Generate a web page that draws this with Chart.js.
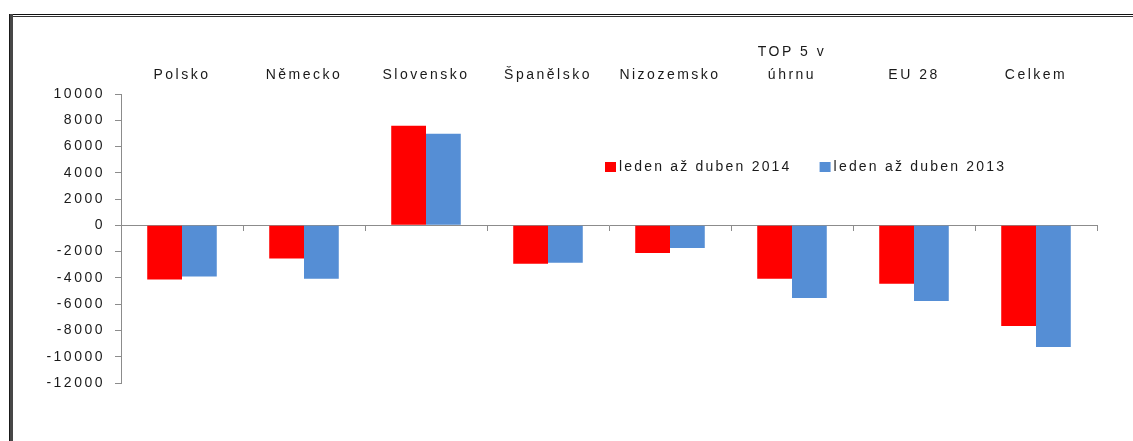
<!DOCTYPE html>
<html>
<head>
<meta charset="utf-8">
<script src="https://cdn.jsdelivr.net/npm/chart.js@4.4.1/dist/chart.umd.min.js"></script>
<style>
  html, body { margin: 0; padding: 0; background: #fff; }
  #wrap { width: 1133px; height: 441px; }
</style>
</head>
<body>
<div id="wrap"><canvas id="chart" width="1133" height="441"></canvas></div>
<script>
const categories = ['Polsko', 'Německo', 'Slovensko', 'Španělsko', 'Nizozemsko', ['TOP 5 v', 'úhrnu'], 'EU 28', 'Celkem']
const series2014 = [-4130, -2530, 7590, -2920, -2100, -4060, -4440, -7660]
const series2013 = [-3900, -4060, 6980, -2840, -1720, -5530, -5760, -9260]
const seriesLabels = ['leden až duben 2014', 'leden až duben 2013']
const yMin = -12000
const yMax = 10000
const yStep = 2000

const FONT = '"Liberation Sans", Arial, sans-serif'
const TEXT = '#1a1a1a'
const AXIS = '#8c8c8c'
const SPACING = '2.5px'

Chart.defaults.font.family = FONT
Chart.defaults.font.size = 14
Chart.defaults.color = TEXT

// the reference text is drawn wide, so widen canvas text a bit
const letterSpacingPlugin = {
  id: 'letterSpacing',
  beforeUpdate(chart) { chart.ctx.letterSpacing = SPACING },
  beforeDraw(chart) { chart.ctx.letterSpacing = SPACING }
}

// white background + the frame lines round the chart
const framePlugin = {
  id: 'frame',
  beforeDraw(chart) {
    const ctx = chart.ctx
    ctx.save()
    ctx.fillStyle = '#fff'
    ctx.fillRect(0, 0, chart.width, chart.height)
    ctx.fillStyle = '#111'
    ctx.fillRect(9, 14, chart.width - 9, 1)
    ctx.fillStyle = '#333'
    ctx.fillRect(9, 16, chart.width - 9, 1)
    ctx.fillStyle = '#474747'
    ctx.fillRect(9, 14, 4, chart.height - 14)
    ctx.fillStyle = '#1a1a1a'
    ctx.fillRect(9, 14, 1, chart.height - 14)
    ctx.restore()
  }
}

// legend sits inside the plot area, one row
const insideLegendPlugin = {
  id: 'insideLegend',
  afterDraw(chart, args, opts) {
    const ctx = chart.ctx
    ctx.save()
    ctx.font = '14px ' + FONT
    ctx.textBaseline = 'middle'
    ctx.letterSpacing = opts.spacing
    let x = opts.x
    chart.data.datasets.forEach(ds => {
      ctx.fillStyle = ds.backgroundColor
      ctx.fillRect(x, opts.y - 5, 11, 10)
      ctx.fillStyle = TEXT
      ctx.fillText(ds.label, x + 14, opts.y)
      x += 14 + ctx.measureText(ds.label).width + opts.gap
    })
    ctx.restore()
  }
}

new Chart(document.getElementById('chart'), {
  type: 'bar',
  data: {
    labels: categories,
    datasets: [{
      label: seriesLabels[0],
      data: series2014,
      backgroundColor: '#FF0000',
      borderWidth: 0,
      categoryPercentage: 0.57,
      barPercentage: 1
    }, {
      label: seriesLabels[1],
      data: series2013,
      backgroundColor: '#558ED5',
      borderWidth: 0,
      categoryPercentage: 0.57,
      barPercentage: 1
    }]
  },
  options: {
    responsive: false,
    animation: false,
    layout: {
      padding: { top: 34, left: 46, right: 36, bottom: 58 }
    },
    plugins: {
      legend: { display: false },
      tooltip: { enabled: false },
      insideLegend: { x: 605, y: 167, gap: 28, spacing: '2.2px' }
    },
    scales: {
      x: {
        position: { y: 0 },
        offset: true,
        ticks: { display: false },
        grid: {
          offset: true,
          drawOnChartArea: false,
          tickLength: 5,
          color: AXIS
        },
        border: { color: AXIS }
      },
      x2: {
        type: 'category',
        position: 'top',
        offset: true,
        grid: { display: false, drawTicks: false },
        border: { display: false },
        ticks: {
          padding: 8,
          maxRotation: 0,
          autoSkip: false,
          font: { size: 14, lineHeight: 1.6 }
        },
        afterFit(scale) { scale.height = 60 }
      },
      y: {
        min: yMin,
        max: yMax,
        ticks: {
          stepSize: yStep,
          padding: 10,
          callback: value => String(value)
        },
        grid: {
          drawOnChartArea: false,
          tickLength: 6,
          color: AXIS
        },
        border: { color: AXIS },
        afterFit(scale) { scale.width = 75 }
      }
    }
  },
  plugins: [letterSpacingPlugin, framePlugin, insideLegendPlugin]
})
</script>
</body>
</html>
